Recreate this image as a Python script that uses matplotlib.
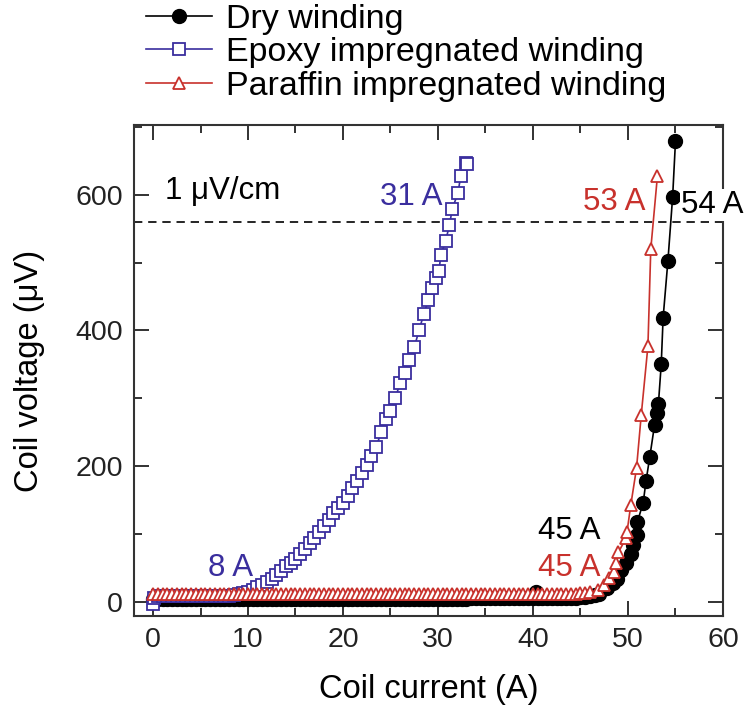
import matplotlib
matplotlib.use("Agg")
import matplotlib.pyplot as plt
from matplotlib.ticker import MultipleLocator

plt.rcParams['font.family'] = ['Liberation Sans', 'DejaVu Sans']

# Dry winding (filled circles)
dry_i = [0.0, 0.5, 1.0, 1.5, 2.0, 2.5, 3.0, 3.5, 4.0, 4.5, 5.0, 5.5, 6.0, 6.5, 7.0, 7.5,
         8.0, 8.5, 9.0, 9.5, 10.0, 10.5, 11.0, 11.5, 12.0, 12.5, 13.0, 13.5, 14.0, 14.5,
         15.0, 15.5, 16.0, 16.5, 17.0, 17.5, 18.0, 18.5, 19.0, 19.5, 20.0, 20.5, 21.0,
         21.5, 22.0, 22.5, 23.0, 23.5, 24.0, 24.5, 25.0, 25.5, 26.0, 26.5, 27.0, 27.5,
         28.0, 28.5, 29.0, 29.5, 30.0, 30.5, 31.0, 31.5, 32.0, 32.5, 33.0, 33.5, 34.0,
         34.5, 35.0, 35.5, 36.0, 36.5, 37.0, 37.5, 38.0, 38.5, 39.0, 39.5, 40.0, 40.3,
         40.5, 41.0, 41.5, 42.0, 42.5, 43.0, 43.5, 44.0, 44.5, 45.0, 45.5, 46.0, 46.5,
         47.0, 47.8, 48.4, 48.8, 49.3, 49.8, 50.3, 50.5, 50.9, 51.0, 51.6, 51.9, 52.3,
         52.8, 53.1, 53.2, 53.5, 53.7, 54.2, 54.7, 55.0]
dry_v = [4, 4, 4, 4, 4, 4, 4, 4, 4, 4, 4, 4, 4, 4, 4, 4,
         4, 4, 4, 4, 4, 4, 4, 4, 4, 4, 4, 4, 4, 4,
         4, 4, 4, 4, 4, 4, 4, 4, 4, 4, 4, 4, 4,
         4, 4, 4, 4, 4, 4, 4, 4, 4, 4, 4, 4, 4,
         4, 4, 4, 4, 4, 4, 4, 4, 4, 4, 4, 5, 5,
         5, 5, 5, 5, 5, 5, 5, 5, 5, 5, 5, 5, 15,
         5, 5, 5, 5, 5, 5, 6, 6, 6, 7, 7, 8, 10,
         12, 20, 28, 34, 47, 57, 70, 84, 99, 118, 146, 178, 214,
         261, 278, 291, 350, 419, 502, 597, 679]

# Epoxy impregnated winding (open squares)
epoxy_i = [0.0, 0.1, 0.5, 1.0, 1.5, 2.0, 2.5, 3.0, 3.5, 4.0, 4.5, 5.0, 5.5, 6.0, 6.5,
           7.0, 7.5, 8.0, 8.5, 9.0, 9.5, 10.0, 10.5, 11.0, 11.5, 12.0, 12.5, 13.0,
           13.5, 14.0, 14.5, 15.0, 15.5, 16.0, 16.5, 17.0, 17.5, 18.0, 18.5, 19.0,
           19.5, 20.0, 20.5, 21.0, 21.5, 22.0, 22.5, 23.0, 23.5, 24.0, 24.5, 25.0,
           25.5, 26.0, 26.5, 27.0, 27.5, 28.0, 28.5, 29.0, 29.4, 29.8, 30.1, 30.3,
           30.8, 31.2, 31.5, 32.1, 32.4, 33.0, 33.1]
epoxy_v = [-4, 6, 8, 8, 8, 8, 8, 8, 8, 8, 8, 8, 8, 8, 8,
           8, 8, 8, 10, 11, 13, 15, 18, 21, 25, 29, 34, 40,
           46, 52, 57, 63, 70, 78, 86, 94, 103, 112, 121, 131,
           138, 145, 156, 167, 178, 190, 202, 215, 228, 250, 270, 282,
           300, 322, 338, 356, 375, 400, 424, 445, 463, 478, 488, 511,
           532, 555, 579, 603, 628, 647, 645]

# Paraffin impregnated winding (open triangles)
paraffin_i = [0.0, 0.5, 1.0, 1.5, 2.0, 2.5, 3.0, 3.5, 4.0, 4.5, 5.0, 5.5, 6.0, 6.5,
              7.0, 7.5, 8.0, 8.5, 9.0, 9.5, 10.0, 10.5, 11.0, 11.5, 12.0, 12.5, 13.0,
              13.5, 14.0, 14.5, 15.0, 15.5, 16.0, 16.5, 17.0, 17.5, 18.0, 18.5, 19.0,
              19.5, 20.0, 20.5, 21.0, 21.5, 22.0, 22.5, 23.0, 23.5, 24.0, 24.5, 25.0,
              25.5, 26.0, 26.5, 27.0, 27.5, 28.0, 28.5, 29.0, 29.5, 30.0, 30.5, 31.0,
              31.5, 32.0, 32.5, 33.0, 33.5, 34.0, 34.5, 35.0, 35.5, 36.0, 36.5, 37.0,
              37.5, 38.0, 38.5, 39.0, 39.5, 40.0, 40.5, 41.0, 41.5, 42.0, 42.5, 43.0,
              43.5, 44.0, 44.5, 45.0, 45.5, 46.0, 46.8, 47.5, 48.0, 48.5, 48.7, 49.0,
              49.8, 49.9, 50.3, 50.9, 51.4, 52.1, 52.4, 53.1]
paraffin_v = [11, 11, 11, 11, 11, 11, 11, 11, 11, 11, 11, 11, 11, 11,
              11, 11, 11, 11, 11, 11, 11, 11, 11, 11, 11, 11, 11,
              11, 11, 11, 11, 11, 11, 11, 11, 11, 11, 11, 11,
              11, 11, 11, 11, 11, 11, 11, 11, 11, 11, 11, 11,
              11, 11, 11, 11, 11, 11, 11, 11, 11, 11, 11, 11,
              11, 11, 11, 11, 11, 11, 11, 11, 11, 11, 11, 11,
              11, 11, 11, 11, 11, 11, 11, 11, 11, 11, 12, 12,
              12, 12, 12, 13, 13, 14, 17, 25, 35, 44, 57, 73,
              94, 103, 143, 197, 276, 377, 520, 628]

criterion = 560  # 1 uV/cm over the coil

blue = '#3a2e9e'
red = '#c8312c'

fig = plt.figure(figsize=(7.52, 7.08), dpi=100)
ax = fig.add_axes([0.1782, 0.130, 0.7832, 0.6934])

ax.plot(dry_i, dry_v, '-o', color='black', lw=1.2, ms=10, mfc='black',
        mec='black', label='Dry winding', zorder=3)
ax.plot(epoxy_i, epoxy_v, '-s', color=blue, lw=1.2, ms=8, mfc='white',
        mec=blue, mew=1.3, label='Epoxy impregnated winding', zorder=4)
ax.plot(paraffin_i, paraffin_v, '-^', color=red, lw=1.2, ms=9, mfc='white',
        mec=red, mew=1.3, label='Paraffin impregnated winding', zorder=5)

ax.axhline(criterion, color='black', ls=(0, (5, 3.5)), lw=1.2, zorder=2)

fs = 22.5
ax.text(1.3, 605, '1 μV/cm', fontsize=fs, va='center', ha='left')
ax.text(30.5, 597, '31 A', fontsize=fs, color=blue, va='center', ha='right')
ax.text(51.8, 590, '53 A', fontsize=fs, color=red, va='center', ha='right')
ax.text(55.6, 585, '54 A', fontsize=fs, color='black', va='center', ha='left',
        clip_on=False, zorder=10,
        bbox=dict(facecolor='white', edgecolor='none', pad=1))
ax.text(40.5, 105, '45 A', fontsize=fs, color='black', va='center', ha='left')
ax.text(40.5, 50, '45 A', fontsize=fs, color=red, va='center', ha='left')
ax.text(5.8, 50, '8 A', fontsize=fs, color=blue, va='center', ha='left')

ax.set_xlim(-2, 60)
ax.set_ylim(-21, 703)
ax.xaxis.set_major_locator(MultipleLocator(10))
ax.xaxis.set_minor_locator(MultipleLocator(5))
ax.yaxis.set_major_locator(MultipleLocator(200))
ax.yaxis.set_minor_locator(MultipleLocator(100))
ax.tick_params(which='both', direction='in', top=True, right=True, width=1.3,
               labelsize=20.5, colors='#222222')
ax.tick_params(which='major', length=11, pad=8)
ax.tick_params(which='minor', length=6)
for s in ax.spines.values():
    s.set_linewidth(1.5)
    s.set_color('#333333')

ax.set_xlabel('Coil current (A)', fontsize=23.5, labelpad=15)
ax.set_ylabel('Coil voltage (μV)', fontsize=23.5, labelpad=22)

fig.legend(loc='upper left', bbox_to_anchor=(0.194, 0.995), frameon=False,
           fontsize=24.5, borderpad=0.0, labelspacing=0.08, handlelength=1.95,
           handletextpad=0.4, borderaxespad=0)

fig.savefig('out.png', dpi=100)
